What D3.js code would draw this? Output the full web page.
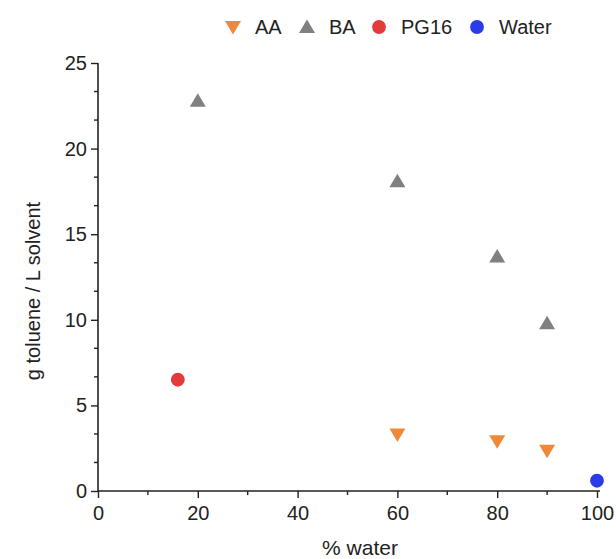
<!DOCTYPE html>
<html><head><meta charset="utf-8">
<script src="https://cdn.jsdelivr.net/npm/d3@7"></script>
<style>body{margin:0;background:#fff}svg{display:block}text{font-family:"Liberation Sans",Arial,sans-serif;fill:#222}</style>
</head><body>
<script>
const seriesNames = ["AA", "BA", "PG16", "Water"];
const seriesColors = ["#F0883A", "#808080", "#E33A3A", "#2A3CE6"];
const seriesShapes = ["down", "up", "circle", "circle"];
const aaX = [60, 80, 90];
const aaY = [3.3, 2.9, 2.35];
const baX = [20, 60, 80, 90];
const baY = [22.8, 18.1, 13.7, 9.8];
const pgX = [16];
const pgY = [6.5];
const waterX = [100];
const waterY = [0.6];
const xTicks = [0, 20, 40, 60, 80, 100];
const yTicks = [0, 5, 10, 15, 20, 25];
const xTitle = "% water";
const yTitle = "g toluene / L solvent";

const W = 616, H = 559;
const svg = d3.select("body").append("svg").attr("width", W).attr("height", H);
const x = d3.scaleLinear().domain([0, 100]).range([98, 597]);
const y = d3.scaleLinear().domain([0, 25]).range([491, 63]);

const xs = [aaX, baX, pgX, waterX], ys = [aaY, baY, pgY, waterY];

// axes
const xAxis = svg.append("g").attr("transform", `translate(0,${y(0)})`)
  .call(d3.axisBottom(x).tickValues(xTicks).tickSize(7).tickPadding(8));
const yAxis = svg.append("g").attr("transform", `translate(${x(0)},0)`)
  .call(d3.axisLeft(y).tickValues(yTicks).tickSize(7).tickPadding(4));
[xAxis, yAxis].forEach(g => {
  g.select(".domain").attr("stroke", "#222").attr("stroke-width", 1.6);
  g.selectAll(".tick line").attr("stroke", "#222").attr("stroke-width", 1.4);
  g.selectAll(".tick text").attr("font-size", 20).attr("fill", "#222").attr("font-family", "Liberation Sans, Arial, sans-serif");
});
xAxis.select(".domain").attr("d", `M${x(0)},0H${x(100) + 3}`);
yAxis.select(".domain").attr("d", `M0,${y(25)}V${y(0)}`);
// minor ticks
const xMinor = [10, 30, 50, 70, 90];
svg.append("g").selectAll("line").data(xMinor).join("line")
  .attr("x1", d => x(d)).attr("x2", d => x(d)).attr("y1", y(0)).attr("y2", y(0) + 4)
  .attr("stroke", "#222").attr("stroke-width", 1.4);
const yMinor = d3.range(0, 25, 5).flatMap(v => [v + 5 / 3, v + 10 / 3]);
svg.append("g").selectAll("line").data(yMinor).join("line")
  .attr("x1", x(0) - 4).attr("x2", x(0)).attr("y1", d => y(d)).attr("y2", d => y(d))
  .attr("stroke", "#222").attr("stroke-width", 1.4);

// titles
svg.append("text").attr("x", 360).attr("y", 555).attr("text-anchor", "middle")
  .attr("font-size", 21).text(xTitle);
svg.append("text").attr("transform", `translate(40,${291}) rotate(-90)`).attr("text-anchor", "middle")
  .attr("font-size", 20).text(yTitle);

function sym(shape) {
  if (shape === "up") return "M0,-7.5L8,6L-8,6Z";
  if (shape === "down") return "M0,7.5L8,-6L-8,-6Z";
  return d3.symbol().type(d3.symbolCircle).size(150)();
}

// points
seriesNames.forEach((n, i) => {
  svg.append("g").selectAll("path").data(xs[i].map((v, j) => [v, ys[i][j]])).join("path")
    .attr("d", sym(seriesShapes[i]))
    .attr("transform", d => `translate(${x(d[0])},${y(d[1])})`)
    .attr("fill", seriesColors[i]);
});

// legend
const legX = [233, 307, 379, 477];
const leg = svg.append("g");
seriesNames.forEach((n, i) => {
  leg.append("path").attr("d", sym(seriesShapes[i])).attr("transform", `translate(${legX[i]},27)`)
    .attr("fill", seriesColors[i]);
  leg.append("text").attr("x", legX[i] + 22).attr("y", 34).attr("font-size", 20).text(n);
});
</script>
</body></html>
